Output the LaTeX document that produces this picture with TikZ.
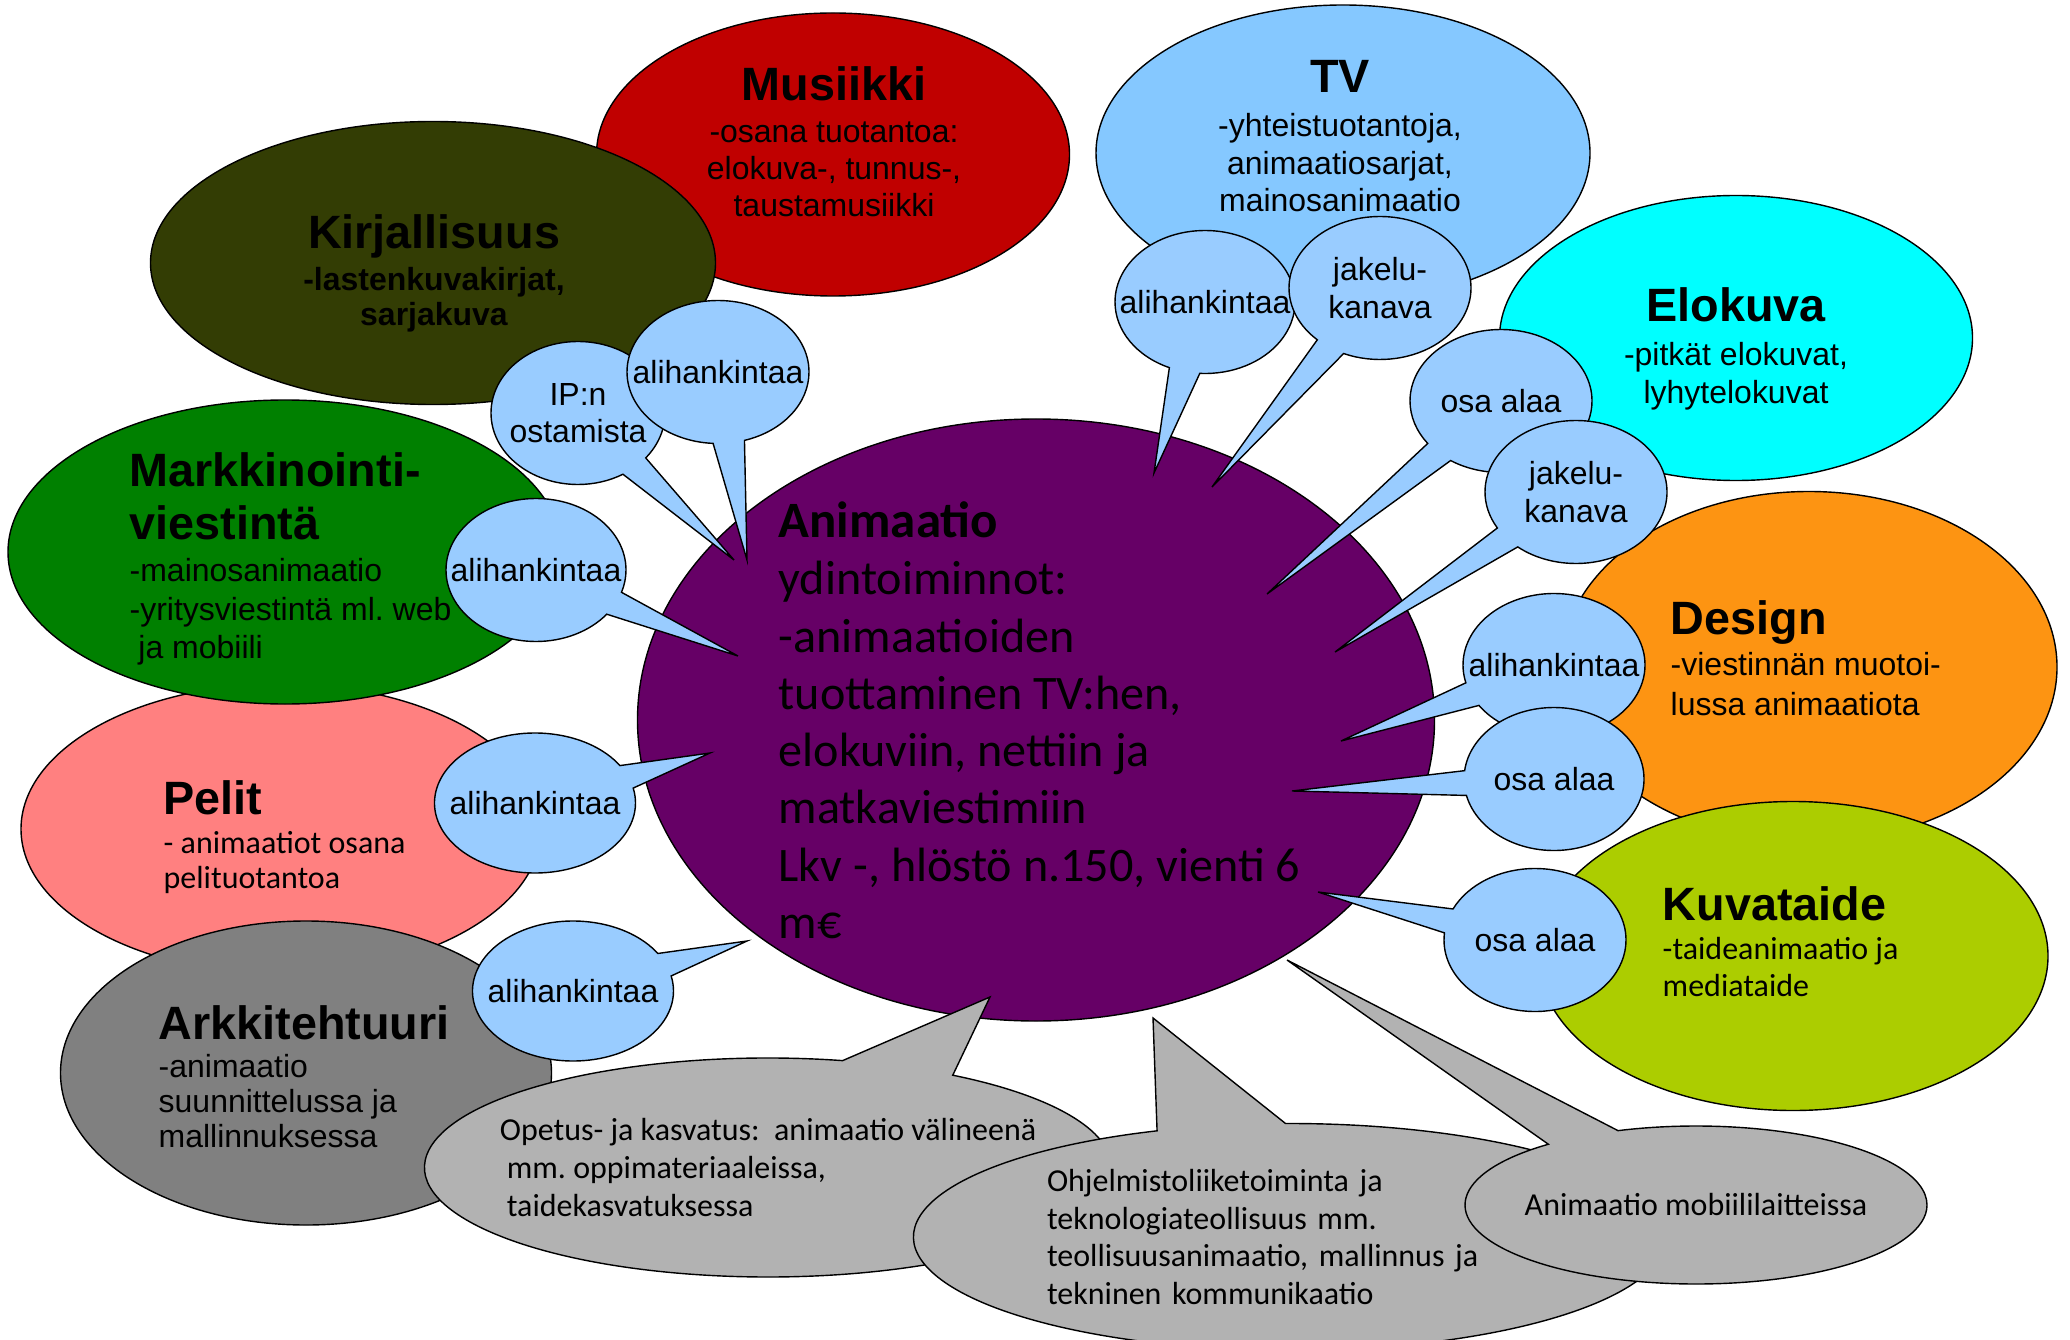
\documentclass[tikz,border=0pt]{standalone}
\usepackage{fontspec}
\setmainfont{Liberation Sans}
\newfontfamily\calibri{Carlito}
\usetikzlibrary{shapes.geometric,shapes.callouts}
\frenchspacing
\definecolor{musred}{RGB}{192,0,0}
\definecolor{kirjolive}{RGB}{51,61,4}
\definecolor{markgreen}{RGB}{0,128,0}
\definecolor{pelitpink}{RGB}{255,128,128}
\definecolor{arkkgray}{RGB}{128,128,128}
\definecolor{animpurple}{RGB}{102,0,102}
\definecolor{tvblue}{RGB}{133,200,255}
\definecolor{elocyan}{RGB}{0,255,255}
\definecolor{designorange}{RGB}{253,148,18}
\definecolor{kuvagreen}{RGB}{172,205,0}
\definecolor{bubblue}{RGB}{153,204,255}
\definecolor{notegray}{RGB}{178,178,178}
\newcommand{\otsikko}[1]{{\normalfont\bfseries\fontsize{13.3}{15}\selectfont #1}}
\begin{document}
\begin{tikzpicture}[field/.style = {draw, ellipse, thin, inner sep=0pt},
  txt/.style = {inner sep=0pt, font=\fontsize{9.1}{10.6}\selectfont},
  bubble/.style = {draw, thin, ellipse callout, fill=bubblue, callout pointer arc=20,
    minimum width=1.82cm, minimum height=1.43cm, inner xsep=-0.3cm, inner ysep=0pt,
    align=center, font=\fontsize{9.1}{10.6}\selectfont},
  note/.style = {draw, thin, ellipse callout, fill=notegray, callout pointer arc=20,
    inner xsep=-0.5cm, inner ysep=0pt, align=left, font=\calibri\fontsize{9.1}{10.7}\selectfont}]
  \useasboundingbox (0,0) rectangle (20.70,-13.40);

  \node[field, fill=musred, minimum width=4.73cm, minimum height=2.83cm] (musiikki) at (8.33,-1.545) {};
  \node[field, fill=kirjolive, minimum width=5.65cm, minimum height=2.83cm] (kirj) at (4.33,-2.63) {};
  \node[field, fill=pelitpink, minimum width=5.20cm, minimum height=2.90cm] (pelit) at (2.81,-8.29) {};
  \node[field, fill=markgreen, minimum width=5.54cm, minimum height=3.04cm] (mark) at (2.85,-5.52) {};
  \node[field, fill=arkkgray, minimum width=4.91cm, minimum height=3.04cm] (arkk) at (3.06,-10.73) {};
  \node[field, fill=tvblue, minimum width=4.94cm, minimum height=2.96cm] (tv) at (13.43,-1.53) {};
  \node[field, fill=elocyan, minimum width=4.73cm, minimum height=2.85cm] (elokuva) at (17.36,-3.38) {};
  \node[field, fill=designorange, minimum width=4.96cm, minimum height=3.51cm] (design) at (18.09,-6.67) {};
  \node[field, fill=kuvagreen, minimum width=5.10cm, minimum height=3.09cm] (kuvataide) at (17.93,-9.56) {};
  \node[field, fill=animpurple, minimum width=7.97cm, minimum height=6.02cm] (animaatio) at (10.36,-7.20) {};

  \node[txt, align=center, anchor=north] (musiikki-t) at (8.34,-0.66)
    {\otsikko{Musiikki}\\[1.2pt] -osana tuotantoa:\\ elokuva-, tunnus-,\\ taustamusiikki};
  \node[txt, align=center, anchor=north, font=\bfseries\fontsize{9.1}{10}\selectfont] (kirj-t) at (4.34,-2.14)
    {\otsikko{Kirjallisuus}\\[2pt] -lastenkuvakirjat,\\ sarjakuva};
  \node[txt, align=left, anchor=north west, font=\fontsize{9.1}{11}\selectfont] (mark-t) at (1.29,-4.52)
    {\otsikko{Markkinointi-}\\[4pt] \otsikko{viestintä}\\[1pt] -mainosanimaatio\\ -yritysviestintä ml. web\\ \hspace*{2.5pt}ja mobiili};
  \node[txt, align=left, anchor=north west, font=\calibri\fontsize{9.1}{10.1}\selectfont] (pelit-t) at (1.63,-7.80)
    {\otsikko{Pelit}\\[0.9pt] - animaatiot osana\\ pelituotantoa};
  \node[txt, align=left, anchor=north west, font=\fontsize{9.1}{10}\selectfont] (arkk-t) at (1.58,-10.05)
    {\otsikko{Arkkitehtuuri}\\[0.7pt] -animaatio\\ suunnittelussa ja\\ mallinnuksessa};
  \node[txt, align=center, anchor=north] (tv-t) at (13.40,-0.60)
    {\otsikko{TV}\\[1.9pt] -yhteistuotantoja,\\ animaatiosarjat,\\ mainosanimaatio};
  \node[txt, align=center, anchor=north] (elokuva-t) at (17.36,-2.87)
    {\otsikko{Elokuva}\\[2pt] -pitkät elokuvat,\\ lyhytelokuvat};
  \node[txt, align=left, anchor=north west, font=\fontsize{9.1}{11.4}\selectfont] (design-t) at (16.70,-6.00)
    {\otsikko{Design}\\[0.3pt] -viestinnän muotoi-\\ lussa animaatiota};
  \node[txt, align=left, anchor=north west, font=\calibri\fontsize{9.1}{10.5}\selectfont] (kuvataide-t) at (16.62,-8.86)
    {\otsikko{Kuvataide}\\[0.6pt] -taideanimaatio ja\\ mediataide};
  \node[txt, align=left, anchor=north west, font=\calibri\fontsize{13.7}{16.3}\selectfont] (animaatio-t) at (7.78,-5.01)
    {{\bfseries\fontsize{14.5}{16.3}\selectfont Animaatio}\\ ydintoiminnot:\\ -animaatioiden\\ tuottaminen TV:hen,\\
     elokuviin, nettiin ja\\ matkaviestimiin\\ Lkv -, hlöstö n.150, vienti 6\\ m€};

  \coordinate (tip-opetus) at (9.90,-9.97);
  \coordinate (tip-ohj) at (11.53,-10.18);
  \coordinate (tip-mob) at (12.87,-9.60);
  \node[note, minimum width=6.87cm, minimum height=2.19cm, callout absolute pointer=(tip-opetus)] (opetus) at (7.68,-11.675)
    {Opetus- ja kasvatus:\ \ animaatio välineenä\\ \hspace*{2pt}mm. oppimateriaaleissa,\\ \hspace*{2pt}taidekasvatuksessa};
  \node[note, minimum width=7.53cm, minimum height=2.27cm, text width=4.86cm,
    callout absolute pointer=(tip-ohj)] (ohjelmisto) at (12.90,-12.37)
    {Ohjelmistoliiketoiminta ja\\ teknologiateollisuus mm.\\ teollisuusanimaatio, mallinnus ja\\ tekninen kommunikaatio};
  \node[note, align=center, minimum width=4.62cm, minimum height=1.58cm,
    callout absolute pointer=(tip-mob)] (mobiili) at (16.96,-12.05) {Animaatio mobiililaitteissa};

  \coordinate (tip-ipn) at (7.34,-5.60);
  \coordinate (tip-kirj) at (7.47,-5.60);
  \coordinate (tip-mark) at (7.38,-6.56);
  \coordinate (tip-pelit) at (7.10,-7.53);
  \coordinate (tip-arkk) at (7.47,-9.41);
  \coordinate (tip-tv1) at (11.54,-4.73);
  \coordinate (tip-tv2) at (12.12,-4.87);
  \coordinate (tip-elo1) at (12.67,-5.94);
  \coordinate (tip-elo2) at (13.35,-6.52);
  \coordinate (tip-des1) at (13.41,-7.41);
  \coordinate (tip-des2) at (12.92,-7.91);
  \coordinate (tip-kuva) at (13.18,-8.92);

  \node[bubble, minimum width=1.74cm, callout absolute pointer=(tip-ipn)] (ipn) at (5.78,-4.13) {IP:n\\ ostamista};
  \node[bubble, callout absolute pointer=(tip-kirj)] (ali-kirj) at (7.18,-3.72) {alihankintaa};
  \node[bubble, minimum width=1.80cm, callout absolute pointer=(tip-mark)] (ali-mark) at (5.36,-5.70) {alihankintaa};
  \node[bubble, minimum width=2.01cm, minimum height=1.40cm, callout absolute pointer=(tip-pelit)] (ali-pelit) at (5.35,-8.03) {alihankintaa};
  \node[bubble, minimum width=2.01cm, minimum height=1.40cm, callout absolute pointer=(tip-arkk)] (ali-arkk) at (5.73,-9.91) {alihankintaa};
  \node[bubble, minimum width=1.80cm, callout absolute pointer=(tip-tv1)] (ali-tv) at (12.05,-3.02) {alihankintaa};
  \node[bubble, callout absolute pointer=(tip-tv2)] (jak-tv) at (13.80,-2.88) {jakelu-\\ kanava};
  \node[bubble, callout absolute pointer=(tip-elo1)] (osa-elo) at (15.01,-4.01) {osa alaa};
  \node[bubble, callout absolute pointer=(tip-elo2)] (jak-elo) at (15.76,-4.92) {jakelu-\\ kanava};
  \node[bubble, callout absolute pointer=(tip-des1)] (ali-des) at (15.54,-6.65) {alihankintaa};
  \node[bubble, minimum width=1.80cm, callout absolute pointer=(tip-des2)] (osa-des) at (15.54,-7.79) {osa alaa};
  \node[bubble, callout absolute pointer=(tip-kuva)] (osa-kuva) at (15.35,-9.40) {osa alaa};
\end{tikzpicture}
\end{document}
